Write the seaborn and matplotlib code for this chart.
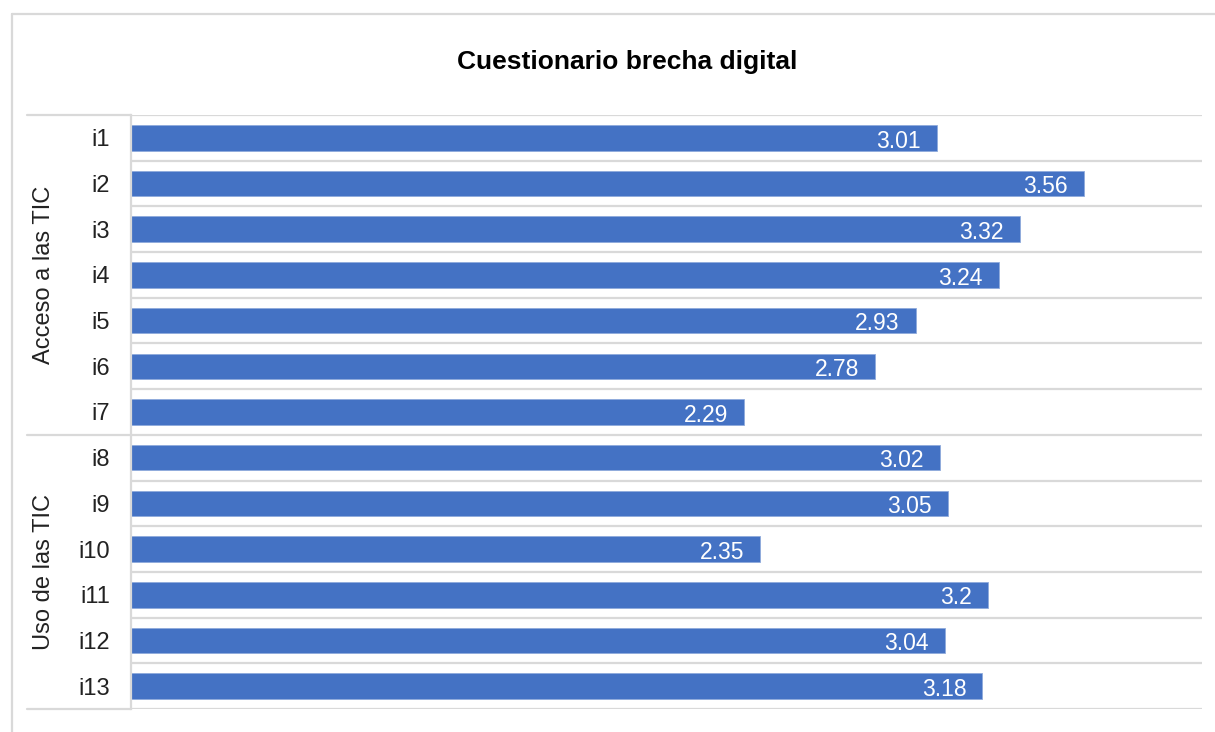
import numpy as np
import pandas as pd
import matplotlib
matplotlib.use("Agg")
import matplotlib.pyplot as plt
import matplotlib.transforms as mtransforms
from matplotlib.lines import Line2D
import seaborn as sns

# Data
items = ["i1", "i2", "i3", "i4", "i5", "i6", "i7",
         "i8", "i9", "i10", "i11", "i12", "i13"]
scores = [3.01, 3.56, 3.32, 3.24, 2.93, 2.78, 2.29,
          3.02, 3.05, 2.35, 3.2, 3.04, 3.18]
groups = ["Acceso a las TIC", "Uso de las TIC"]
group_sizes = [7, 6]
title = "Cuestionario brecha digital"

df = pd.DataFrame({"item": items, "score": scores})

sns.set_theme(style="white")
plt.rcParams["font.family"] = ["Liberation Sans", "DejaVu Sans"]

W, H, DPI = 1215, 732, 100
fig = plt.figure(figsize=(W / DPI, H / DPI), dpi=DPI)
fig.patch.set_facecolor("white")

grid_color = "#D9D9D9"
bar_color = "#4472C4"

# plot area in pixel terms
left_px, right_px, top_px, bottom_px = 131, 1202, 115, 709
ax = fig.add_axes([left_px / W, 1 - bottom_px / H,
                   (right_px - left_px) / W, (bottom_px - top_px) / H])

sns.barplot(data=df, y="item", x="score", orient="h", color=bar_color,
            width=0.56, saturation=1, ax=ax, edgecolor="#8FAADC", linewidth=0.6)

n = len(items)
ax.set_xlim(0, 4)
ax.set_ylim(n - 0.5, -0.5)
ax.set_xlabel("")
ax.set_ylabel("")
ax.set_xticks([])

# category gridlines
ax.set_yticks(np.arange(-0.5, n, 1), minor=True)
ax.grid(which="minor", axis="y", color=grid_color, linewidth=1.6)
ax.grid(which="major", visible=False)
ax.tick_params(axis="y", which="both", length=0, pad=15, labelsize=17,
               labelcolor="#222222")

for s in ["top", "right", "bottom"]:
    ax.spines[s].set_visible(False)
ax.spines["left"].set_color(grid_color)
ax.spines["left"].set_linewidth(1.6)

# value labels inside bar ends
for i, v in enumerate(scores):
    ax.annotate(f"{v:g}", xy=(v, i), xytext=(-11.5, -7), textcoords="offset points",
                ha="right", va="baseline", color="white", fontsize=16.5)

# group separators and group labels
trans = mtransforms.blended_transform_factory(ax.transAxes, ax.transData)
ext = (27 - left_px) / (right_px - left_px)
label_x = (44 - left_px) / (right_px - left_px)
start = -0.5
bounds = [start]
for g, size in zip(groups, group_sizes):
    end = start + size
    bounds.append(end)
    ax.text(label_x, (start + end) / 2, g, transform=trans, rotation=90,
            ha="center", va="center", fontsize=17, color="#222222")
    start = end
for b in bounds:
    ax.add_line(Line2D([ext, 0], [b, b], transform=trans, color=grid_color,
                       linewidth=1.6, clip_on=False))

# title
fig.text(627 / W, 1 - 68.5 / H, title, ha="center", va="baseline",
         fontsize=19, fontweight="bold", color="black")

# outer chart border (left and top edges)
fig.add_artist(Line2D([12 / W, 12 / W], [0, 1 - 14 / H], transform=fig.transFigure,
                      color=grid_color, linewidth=1.6))
fig.add_artist(Line2D([12 / W, 1], [1 - 14 / H, 1 - 14 / H], transform=fig.transFigure,
                      color=grid_color, linewidth=1.6))

fig.savefig("out.png", dpi=DPI, facecolor="white")
